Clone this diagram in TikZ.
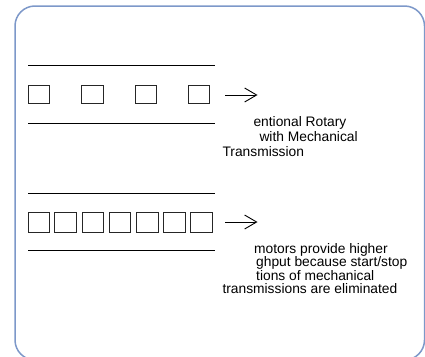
\documentclass[tikz,border=0pt]{standalone}
\usepackage{fontspec}
\setmainfont{Liberation Sans}
\usetikzlibrary{arrows.meta}
\definecolor{framecol}{HTML}{7D98C9}
\begin{document}
\begin{tikzpicture}[x=1pt,y=-1pt,
  frame/.style={draw=framecol, line width=1.5pt, rounded corners=20pt},
  sq/.style={draw=black!85, line width=1.1pt, inner sep=0pt, outer sep=0pt, minimum width=21.4pt, minimum height=17.8pt, anchor=north west},
  sqb/.style={sq, minimum width=21.5pt, minimum height=20pt},
  rule/.style={draw=black, line width=1pt},
  arr/.style={draw=black, line width=0.9pt, -{Straight Barb[length=12pt,width=14pt,line width=0.9pt]}},
  lbl/.style={anchor=base west, inner sep=0pt, font=\fontsize{13.8}{15}\selectfont}
]
\useasboundingbox (0,0) rectangle (425,356);
\clip (0,0) rectangle (425,356);
\draw[frame] (15,6) rectangle (424.5,360);

% panel 1
\coordinate (t1a) at (28,65);
\coordinate (t1b) at (215,65);
\coordinate (b1a) at (28,123.3);
\coordinate (b1b) at (215,123.3);
\draw[rule] (t1a) -- (t1b);
\draw[rule] (b1a) -- (b1b);
\node[sq] (p1) at (28.2,85.5) {};
\node[sq] (p2) at (81.7,85.5) {};
\node[sq] (p3) at (135.2,85.5) {};
\node[sq] (p4) at (188.5,85.5) {};
\coordinate (a1s) at (225,95);
\coordinate (a1e) at (257.5,95);
\draw[arr] (a1s) -- (a1e);
\node[lbl] (x1) at (253.3,126) {entional Rotary};
\node[lbl] (x2) at (259.3,141) {with Mechanical};
\node[lbl] (x3) at (222.3,156) {Transmission};

% panel 2
\coordinate (t2a) at (28,193.3);
\coordinate (t2b) at (215,193.3);
\coordinate (b2a) at (28,250.7);
\coordinate (b2b) at (215,250.7);
\draw[rule] (t2a) -- (t2b);
\draw[rule] (b2a) -- (b2b);
\node[sqb] (q1) at (28.4,212.7) {};
\node[sqb] (q2) at (54.9,212.7) {};
\node[sqb] (q3) at (82.1,212.7) {};
\node[sqb] (q4) at (109.3,212.7) {};
\node[sqb] (q5) at (136.6,212.7) {};
\node[sqb] (q6) at (163.8,212.7) {};
\node[sqb] (q7) at (190.8,212.7) {};
\coordinate (a2s) at (225,222);
\coordinate (a2e) at (257.5,222);
\draw[arr] (a2s) -- (a2e);
\node[lbl] (y1) at (254,253) {motors provide higher};
\node[lbl] (y2) at (256,266.6) {ghput because start/stop};
\node[lbl] (y3) at (256,280.2) {tions of mechanical};
\node[lbl] (y4) at (222.3,293.8) {transmissions are eliminated};
\end{tikzpicture}
\end{document}
